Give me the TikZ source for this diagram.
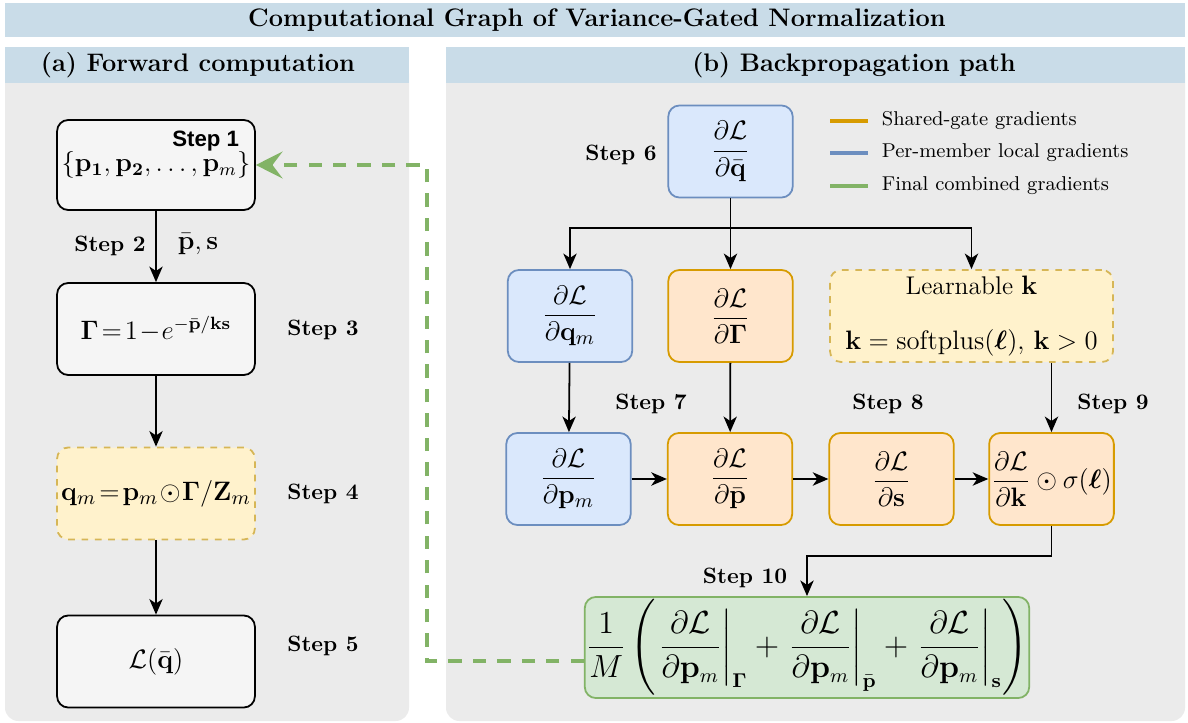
\documentclass[tikz,border=0pt]{standalone}
\usepackage{amsmath,bm}
\usepackage[no-math]{fontspec}
\newfontfamily\helvfont{Liberation Sans}
\usetikzlibrary{arrows.meta,positioning}
\definecolor{headblue}{HTML}{C9DCE8}
\definecolor{panelgray}{HTML}{EBEBEB}
\definecolor{boxgray}{HTML}{F5F5F5}
\definecolor{blfill}{HTML}{DAE8FC}
\definecolor{bldraw}{HTML}{6C8EBF}
\definecolor{orfill}{HTML}{FFE6CC}
\definecolor{ordraw}{HTML}{D79B00}
\definecolor{yefill}{HTML}{FFF2CC}
\definecolor{yedraw}{HTML}{D6B656}
\definecolor{grfill}{HTML}{D5E8D4}
\definecolor{grdraw}{HTML}{82B366}
\tikzset{
	box/.style={draw, rounded corners=5pt, line width=0.8pt, inner sep=1pt,
		minimum width=56pt, minimum height=41.4pt, align=center,
		font=\fontsize{13}{15}\selectfont},
	graybox/.style={box, fill=boxgray, draw=black, minimum width=89pt},
	bluebox/.style={box, fill=blfill, draw=bldraw},
	orbox/.style={box, fill=orfill, draw=ordraw},
	yebox/.style={box, fill=yefill, draw=yedraw, dashed},
	steplbl/.style={font=\bfseries},
	arr/.style={-{Stealth[length=7pt,width=6pt,inset=2pt]}, line width=0.8pt},
	legline/.style={line width=1.8pt},
	legtext/.style={right, font=\fontsize{9}{11}\selectfont},
}
\begin{document}
\begin{tikzpicture}[x=0.45pt, y=-0.45pt]
	\useasboundingbox (0,0) rectangle (1188,723);
	% title and panels
	\fill[headblue](5,3)rectangle(1185,37);
	\node[font=\fontsize{11.4}{14}\selectfont\bfseries] (title) at (597,20) {Computational Graph of Variance-Gated Normalization};
	\fill[panelgray, rounded corners=6pt](5,60)rectangle(409,721);
	\fill[panelgray, rounded corners=6pt](446,60)rectangle(1185,721);
	\fill[headblue](5,47)rectangle(409,83);
	\fill[headblue](446,47)rectangle(1185,83);
	\node[font=\fontsize{11.4}{14}\selectfont\bfseries] (heada) at (198,65) {(a) Forward computation};
	\node[font=\fontsize{11.4}{14}\selectfont\bfseries] (headb) at (854,65) {(b) Backpropagation path};

	% (a) forward
	\node[graybox, minimum height=40.5pt, font=\fontsize{12}{15}\selectfont] (s1) at (156,165) {\raisebox{-4pt}{$\{\mathbf{p_1}, \mathbf{p_2}, \ldots, \mathbf{p}_m\}$}};
	\node[anchor=north east, font=\helvfont\bfseries] (s1lbl) at ([xshift=-4pt, yshift=-2pt]s1.north east) {Step 1};
	\node[graybox, font=\fontsize{11.5}{14}\selectfont] (s3) at (156,329) {$\mathbf{\Gamma}\!=\!1\!-\!e^{-\bar{\mathbf{p}}/\mathbf{ks}}$};
	\node[yebox, minimum width=89pt] (s4) at (156,493.5) {$\mathbf{q}_m\!=\!\mathbf{p}_m\!\odot\!\mathbf{\Gamma}/\mathbf{Z}_m$};
	\node[graybox] (s5) at (156,661.5) {$\mathcal{L}(\bar{\mathbf{q}})$};
	\draw[arr](s1)--(s3);
	\draw[arr](s3)--(s4);
	\draw[arr](s4)--(s5);
	\node[steplbl] (st2) at (110,246) {Step 2};
	\node[font=\fontsize{12.5}{14}\selectfont] (pbs) at (198,244) {$\bar{\mathbf{p}}, \mathbf{s}$};
	\node[steplbl] (st3) at (323,330) {Step 3};
	\node[steplbl] (st4) at (323,494) {Step 4};
	\node[steplbl] (st5) at (323,646) {Step 5};

	% (b) backprop
	\node[bluebox] (dq) at (730.5,151.5) {$\dfrac{\partial\mathcal{L}}{\partial\bar{\mathbf{q}}}$};
	\node[steplbl] (st6) at (621,155) {Step 6};
	\node[bluebox] (dqm) at (570,316) {$\dfrac{\partial\mathcal{L}}{\partial\mathbf{q}_m}$};
	\node[orbox] (dgam) at (730.5,316) {$\dfrac{\partial\mathcal{L}}{\partial\mathbf{\Gamma}}$};
	\node[yebox, minimum width=127.4pt, font=\fontsize{11.5}{14}\selectfont] (learnk) at (971.5,316) {Learnable $\mathbf{k}$\\[11pt]$\mathbf{k}=\mathrm{softplus}(\bm{\ell}),\,\mathbf{k}>0$};
	\node[bluebox] (dpm) at (568.5,479) {$\dfrac{\partial\mathcal{L}}{\partial\mathbf{p}_m}$};
	\node[orbox] (dpb) at (730,479) {$\dfrac{\partial\mathcal{L}}{\partial\bar{\mathbf{p}}}$};
	\node[orbox] (ds) at (891.5,479) {$\dfrac{\partial\mathcal{L}}{\partial\mathbf{s}}$};
	\node[orbox] (dk) at (1051.5,479) {$\dfrac{\partial\mathcal{L}}{\partial\mathbf{k}}\odot\sigma(\bm{\ell})$};
	\node[box, fill=grfill, draw=grdraw, minimum width=200pt, minimum height=45.5pt, inner sep=0pt, font=\fontsize{13.4}{16}\selectfont] (comb) at (807,647.5)
		{$\dfrac{1}{M}\left(\left.\dfrac{\partial\mathcal{L}}{\partial\mathbf{p}_m}\right|_{\mathbf{\Gamma}}+\left.\dfrac{\partial\mathcal{L}}{\partial\mathbf{p}_m}\right|_{\bar{\mathbf{p}}}+\left.\dfrac{\partial\mathcal{L}}{\partial\mathbf{p}_m}\right|_{\mathbf{s}}\right)$};
	\coordinate (split) at (730.5,228);
	\draw[line width=0.8pt](dq)--(split);
	\draw[arr](split)-|(dqm);
	\draw[arr](split)--(dgam);
	\draw[arr](split)-|(learnk);
	\draw[arr](dqm)--(dpm);
	\draw[arr](dgam)--(dpb);
	\draw[arr](learnk.south-|dk)--(dk);
	\draw[arr](dpm)--(dpb);
	\draw[arr](dpb)--(ds);
	\draw[arr](ds)--(dk);
	\draw[arr](dk.south)--++(0,30)-|(comb);
	\node[steplbl] (st7) at (651,404) {Step 7};
	\node[steplbl] (st8) at (888,404) {Step 8};
	\node[steplbl] (st9) at (1113,404) {Step 9};
	\node[steplbl] (st10) at (745,578) {Step 10};
	% feedback to step 1
	\draw[grdraw, line width=1.8pt, dash pattern=on 6pt off 5pt, -{Stealth[length=12pt,width=12pt,inset=4.5pt]}]
		([yshift=-6pt]comb.west)--++(-157,0)|-(s1.east);

	% legend
	\draw[legline, ordraw](830,121)--(868,121)node[legtext, black, xshift=2pt] (lg1) {Shared-gate gradients};
	\draw[legline, bldraw](830,153)--(868,153)node[legtext, black, xshift=2pt] (lg2) {Per-member local gradients};
	\draw[legline, grdraw](830,186)--(868,186)node[legtext, black, xshift=2pt] (lg3) {Final combined gradients};
\end{tikzpicture}
\end{document}
